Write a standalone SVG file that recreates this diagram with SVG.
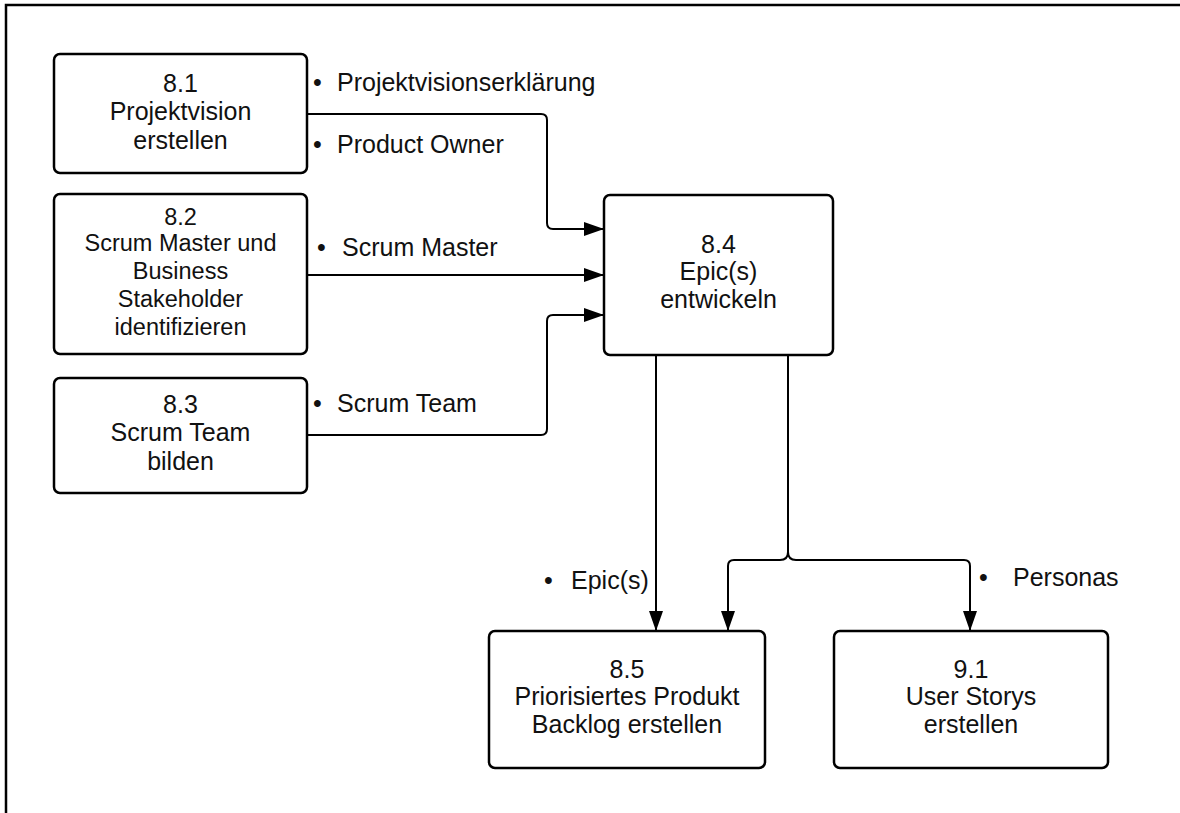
<svg xmlns="http://www.w3.org/2000/svg" width="1180" height="813" viewBox="0 0 1180 813">
<style>
.box{fill:#fff;stroke:#000;stroke-width:2.5}
.t{font-family:"Liberation Sans",Arial,sans-serif;font-size:25px;fill:#111;text-anchor:middle}
.t2{font-family:"Liberation Sans",Arial,sans-serif;font-size:23.5px;fill:#111;text-anchor:middle}
.lbl{font-family:"Liberation Sans",Arial,sans-serif;font-size:25px;fill:#111}
.c{fill:none;stroke:#000;stroke-width:2}
</style>
<defs>
<marker id="arr" viewBox="0 0 20 14" refX="20" refY="7" markerWidth="20" markerHeight="14" markerUnits="userSpaceOnUse" orient="auto">
<path d="M0,0 L20,7 L0,14 z" fill="#000"/>
</marker>
</defs>
<rect width="1180" height="813" fill="#fff"/>
<path d="M6,813 V5 H1180" fill="none" stroke="#000" stroke-width="2.5"/>

<g id="connectors">
<path class="c" d="M307,114 H541 Q547,114 547,120 V223 Q547,229 553,229 H604" marker-end="url(#arr)"/>
<path class="c" d="M307,275 H604" marker-end="url(#arr)"/>
<path class="c" d="M307,435 H541 Q547,435 547,429 V321 Q547,315 553,315 H604" marker-end="url(#arr)"/>
<path class="c" d="M656,355 V631" marker-end="url(#arr)"/>
<path class="c" d="M788,355 V552 Q788,560 780,560 H734 Q728,560 728,566 V631" marker-end="url(#arr)"/>
<path class="c" d="M788,355 V552 Q788,560 796,560 H964 Q970,560 970,566 V631" marker-end="url(#arr)"/>
<text class="lbl"><tspan x="313" y="91">•</tspan><tspan x="337" y="91">Projektvisionserklärung</tspan></text>
<text class="lbl"><tspan x="313" y="153">•</tspan><tspan x="337" y="153">Product Owner</tspan></text>
<text class="lbl"><tspan x="317" y="256">•</tspan><tspan x="342" y="256">Scrum Master</tspan></text>
<text class="lbl"><tspan x="313" y="412">•</tspan><tspan x="337" y="412">Scrum Team</tspan></text>
<text class="lbl"><tspan x="544" y="589">•</tspan><tspan x="571" y="589">Epic(s)</tspan></text>
<text class="lbl"><tspan x="979" y="586">•</tspan><tspan x="1013" y="586">Personas</tspan></text>
</g>

<g id="n81">
<rect class="box" x="54" y="54" width="253" height="119" rx="6"/>
<text class="t"><tspan x="180.5" y="92">8.1</tspan><tspan x="180.5" y="120">Projektvision</tspan><tspan x="180.5" y="149">erstellen</tspan></text>
</g>
<g id="n82">
<rect class="box" x="54" y="194" width="253" height="160" rx="6"/>
<text class="t2"><tspan x="180.5" y="225">8.2</tspan><tspan x="180.5" y="251">Scrum Master und</tspan><tspan x="180.5" y="279">Business</tspan><tspan x="180.5" y="307">Stakeholder</tspan><tspan x="180.5" y="335">identifizieren</tspan></text>
</g>
<g id="n83">
<rect class="box" x="54" y="378" width="253" height="115" rx="6"/>
<text class="t"><tspan x="180.5" y="413">8.3</tspan><tspan x="180.5" y="441">Scrum Team</tspan><tspan x="180.5" y="470">bilden</tspan></text>
</g>
<g id="n84">
<rect class="box" x="604" y="195" width="229" height="160" rx="6"/>
<text class="t"><tspan x="718.5" y="253">8.4</tspan><tspan x="718.5" y="280">Epic(s)</tspan><tspan x="718.5" y="308">entwickeln</tspan></text>
</g>
<g id="n85">
<rect class="box" x="489" y="631" width="276" height="137" rx="6"/>
<text class="t"><tspan x="627" y="678">8.5</tspan><tspan x="627" y="705">Priorisiertes Produkt</tspan><tspan x="627" y="733">Backlog erstellen</tspan></text>
</g>
<g id="n91">
<rect class="box" x="834" y="631" width="274" height="137" rx="6"/>
<text class="t"><tspan x="971" y="678">9.1</tspan><tspan x="971" y="705">User Storys</tspan><tspan x="971" y="733">erstellen</tspan></text>
</g>
</svg>
